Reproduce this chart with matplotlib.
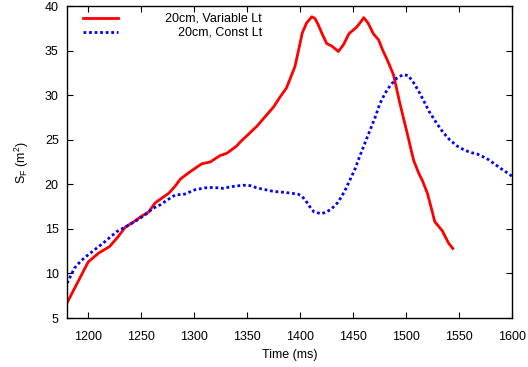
import matplotlib
matplotlib.use("Agg")
import matplotlib.pyplot as plt
from matplotlib.lines import Line2D

plt.rcParams['font.family'] = ['Liberation Sans', 'DejaVu Sans']
plt.rcParams['font.size'] = 9

# Variable Lt curve (time in ms, S_F in m^2)
t_var = [1180, 1190, 1200, 1210, 1220, 1228, 1235, 1243, 1250, 1257, 1263, 1270, 1276,
         1282, 1287, 1296, 1307, 1315, 1324, 1331, 1340, 1343, 1351, 1359, 1367, 1375,
         1381, 1387, 1395, 1398, 1402, 1406, 1411, 1414, 1417, 1421, 1425, 1430, 1436,
         1441, 1446, 1453, 1457, 1460, 1464, 1469, 1474, 1478, 1482, 1488, 1494, 1501,
         1507, 1512, 1515, 1520, 1524, 1527, 1534, 1540, 1544]
s_var = [6.7, 9.0, 11.3, 12.3, 13.0, 14.1, 15.2, 15.8, 16.4, 16.9, 17.9, 18.5, 19.0,
         19.8, 20.6, 21.4, 22.3, 22.5, 23.2, 23.5, 24.3, 24.7, 25.6, 26.5, 27.6, 28.7,
         29.8, 30.8, 33.2, 34.8, 37.0, 38.1, 38.8, 38.6, 37.9, 36.8, 35.8, 35.5, 34.9,
         35.7, 36.9, 37.6, 38.2, 38.7, 38.1, 36.9, 36.2, 35.0, 34.0, 32.3, 29.1, 25.7,
         22.7, 21.2, 20.5, 19.0, 17.2, 15.8, 14.8, 13.4, 12.8]

# Const Lt curve
t_const = [1180, 1187, 1193, 1200, 1214, 1227, 1238, 1249, 1255, 1261, 1268, 1274, 1282,
           1291, 1301, 1310, 1318, 1327, 1336, 1346, 1353, 1359, 1367, 1375, 1385, 1398,
           1402, 1405, 1409, 1413, 1420, 1425, 1430, 1435, 1439, 1443, 1447, 1452, 1456,
           1461, 1466, 1471, 1475, 1480, 1485, 1491, 1497, 1502, 1507, 1512, 1516, 1522,
           1529, 1535, 1541, 1548, 1554, 1560, 1567, 1576, 1582, 1589, 1594, 1600]
s_const = [8.9, 10.6, 11.4, 12.1, 13.4, 14.7, 15.4, 16.2, 16.7, 17.3, 17.7, 18.2, 18.8,
           18.9, 19.4, 19.6, 19.65, 19.55, 19.75, 19.9, 19.85, 19.6, 19.4, 19.2, 19.1,
           18.9, 18.6, 18.2, 17.5, 16.9, 16.7, 16.9, 17.3, 17.9, 18.6, 19.5, 20.5, 21.8,
           23.1, 24.6, 26.1, 27.6, 29.0, 30.2, 31.1, 31.9, 32.3, 32.2, 31.4, 30.4, 29.5,
           28.1, 26.8, 25.8, 25.0, 24.3, 23.9, 23.6, 23.4, 22.9, 22.4, 21.8, 21.4, 20.9]

labels = ['20cm, Variable Lt', '20cm, Const Lt']

fig = plt.figure(figsize=(5.28, 3.67), dpi=100)
ax = fig.add_axes([0.127, 0.1335, 0.843, 0.85])

ax.plot(t_var, s_var, color='#ff0000', lw=2)
ax.plot(t_const, s_const, color='#0000ff', lw=2, linestyle=(0, (1, 1)))

ax.set_xlim(1180, 1600)
ax.set_ylim(5, 40)
ax.set_xticks(range(1200, 1601, 50))
ax.set_yticks(range(5, 41, 5))
ax.tick_params(direction='in', top=True, right=True, length=4, width=0.8, pad=6)
ax.tick_params(axis='x', pad=9)
for sp in ax.spines.values():
    sp.set_linewidth(1)

ax.set_xlabel('Time (ms)', labelpad=5)
ax.set_ylabel(r'S$_\mathregular{F}$ (m$^\mathregular{2}$)', labelpad=10)

# gnuplot-style key: sample on the left, text right aligned
key_y = [0.9615, 0.9167]
styles = [dict(color='#ff0000', lw=2), dict(color='#0000ff', lw=2, linestyle=(0, (1, 1)))]
for lab, y, st in zip(labels, key_y, styles):
    ax.add_line(Line2D([0.036, 0.115], [y, y], transform=ax.transAxes, **st))
    ax.text(0.438, y, lab, transform=ax.transAxes, ha='right', va='center')

fig.savefig('out.png', dpi=100)
